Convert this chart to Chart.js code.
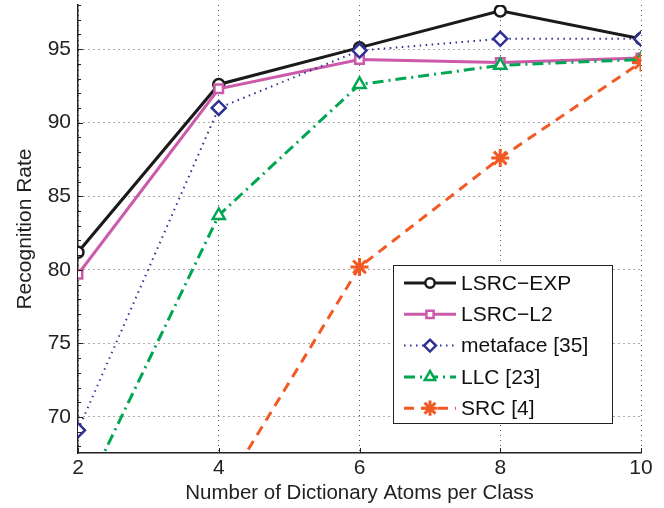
<!DOCTYPE html>
<html>
<head>
<meta charset="utf-8">
<script src="https://cdn.jsdelivr.net/npm/chart.js@4"></script>
<style>
  html, body { margin: 0; padding: 0; background: #fff; }
  #wrap { width: 664px; height: 508px; }
</style>
</head>
<body>
<div id="wrap"><canvas id="chart1" width="664" height="508"></canvas></div>
<script>
const atoms = [2, 4, 6, 8, 10];
const lsrcExp = [81.2, 92.6, 95.1, 97.6, 95.7];
const lsrcL2 = [79.7, 92.3, 94.3, 94.1, 94.4];
const metaface = [69.1, 91.0, 94.9, 95.7, 95.7];
const llc = [63.9, 83.7, 92.6, 93.9, 94.3];
const src = [55.0, 64.5, 80.2, 87.6, 94.1];
const yTicks = [70, 75, 80, 85, 90, 95];
const seriesNames = ['LSRC\u2212EXP', 'LSRC\u2212L2', 'metaface [35]', 'LLC [23]', 'SRC [4]'];

const FONT = 'Liberation Sans, Arial, Helvetica, sans-serif';

function toPoints(vals) {
  return vals.map((v, i) => ({ x: atoms[i], y: v }));
}

// matlab style ticks pointing into the plot, minor ones on y every unit
const innerTicks = {
  id: 'innerTicks',
  afterDraw(chart) {
    const { ctx, chartArea, scales } = chart;
    ctx.save();
    ctx.strokeStyle = '#222';
    ctx.lineWidth = 1;
    ctx.beginPath();
    atoms.forEach(v => {
      const px = Math.round(scales.x.getPixelForValue(v)) + 0.5;
      ctx.moveTo(px, chartArea.bottom);
      ctx.lineTo(px, chartArea.bottom - 5);
    });
    for (let v = 68; v <= 98; v++) {
      const py = Math.round(scales.y.getPixelForValue(v)) + 0.5;
      const len = v % 5 === 0 ? 5 : 3;
      ctx.moveTo(chartArea.left, py);
      ctx.lineTo(chartArea.left + len, py);
    }
    ctx.stroke();
    ctx.restore();
  }
};

// legend drawn inside the plot, lower right, like the matlab one
const boxLegend = {
  id: 'boxLegend',
  afterDatasetsDraw(chart) {
    const ctx = chart.ctx;
    const x0 = 393, y0 = 265, w = 219, h = 158;
    ctx.save();
    ctx.fillStyle = '#fff';
    ctx.fillRect(x0, y0, w, h);
    ctx.strokeStyle = '#222';
    ctx.lineWidth = 1;
    ctx.strokeRect(x0 + 0.5, y0 + 0.5, w, h);
    chart.data.datasets.forEach((ds, i) => {
      const y = 283 + i * 31.3;
      ctx.save();
      ctx.strokeStyle = ds.borderColor;
      ctx.lineWidth = ds.borderWidth;
      ctx.setLineDash(ds.borderDash || []);
      ctx.beginPath();
      ctx.moveTo(404, y);
      ctx.lineTo(456, y);
      ctx.stroke();
      ctx.restore();
      ctx.save();
      ctx.strokeStyle = ds.borderColor;
      ctx.fillStyle = ds.pointBackgroundColor;
      ctx.lineWidth = ds.pointBorderWidth;
      Chart.helpers.drawPoint(ctx, {
        pointStyle: ds.pointStyle,
        radius: ds.pointRadius * 0.85,
        rotation: 0,
        borderWidth: ds.pointBorderWidth
      }, 430, y);
      ctx.restore();
      ctx.fillStyle = '#111';
      ctx.font = '21px ' + FONT;
      ctx.textBaseline = 'middle';
      ctx.fillText(ds.label, 461, y + 1);
    });
    ctx.restore();
  }
};

new Chart(document.getElementById('chart1'), {
  type: 'line',
  data: {
    datasets: [
      {
        label: seriesNames[0], data: toPoints(lsrcExp), order: 5,
        borderColor: '#1a1a1a', borderWidth: 3,
        pointStyle: 'circle', pointRadius: 5.5, pointBorderWidth: 2.5,
        pointBackgroundColor: '#fff'
      },
      {
        label: seriesNames[1], data: toPoints(lsrcL2), order: 4,
        borderColor: '#cc5aaa', borderWidth: 3,
        pointStyle: 'rect', pointRadius: 6, pointBorderWidth: 2.5,
        pointBackgroundColor: '#fff'
      },
      {
        label: seriesNames[2], data: toPoints(metaface), order: 3,
        borderColor: '#2e3192', borderWidth: 2, borderDash: [1.5, 4.5],
        pointStyle: 'rectRot', pointRadius: 7, pointBorderWidth: 2.5,
        pointBackgroundColor: '#fff'
      },
      {
        label: seriesNames[3], data: toPoints(llc), order: 2,
        borderColor: '#00a651', borderWidth: 3, borderDash: [11, 5, 2, 5],
        pointStyle: 'triangle', pointRadius: 7, pointBorderWidth: 2.5,
        pointBackgroundColor: '#fff'
      },
      {
        label: seriesNames[4], data: toPoints(src), order: 1,
        borderColor: '#f15a24', borderWidth: 3, borderDash: [10, 7],
        pointStyle: 'star', pointRadius: 9, pointBorderWidth: 3,
        pointBackgroundColor: '#f15a24'
      }
    ]
  },
  options: {
    responsive: false,
    animation: false,
    layout: { autoPadding: false, padding: { left: 0, right: 23, top: 5, bottom: 0 } },
    elements: { line: { tension: 0 } },
    plugins: {
      legend: { display: false },
      tooltip: { enabled: false }
    },
    scales: {
      x: {
        type: 'linear', min: 2, max: 10,
        afterBuildTicks: (scale) => { scale.ticks = atoms.map(v => ({ value: v })); },
        afterFit: (scale) => { scale.height = 55; scale.paddingLeft = 0; scale.paddingRight = 0; },
        grid: { color: '#555', lineWidth: 1, drawTicks: false },
        border: { display: true, color: '#222', width: 1.5, dash: [1, 4] },
        ticks: { color: '#222', font: { family: FONT, size: 21 }, padding: 3 },
        title: {
          display: true, text: 'Number of Dictionary Atoms per Class',
          color: '#222', font: { family: FONT, size: 20.5 }, padding: { top: 0, bottom: 2 }
        }
      },
      y: {
        type: 'linear', min: 67.55, max: 98,
        afterBuildTicks: (scale) => { scale.ticks = yTicks.map(v => ({ value: v })); },
        afterFit: (scale) => { scale.width = 78; scale.paddingTop = 0; scale.paddingBottom = 0; },
        grid: { color: '#555', lineWidth: 1, drawTicks: false },
        border: { display: true, color: '#222', width: 1.5, dash: [1, 4] },
        ticks: { color: '#222', font: { family: FONT, size: 21 }, padding: 7 },
        title: {
          display: true, text: 'Recognition Rate',
          color: '#222', font: { family: FONT, size: 21 }, padding: { top: 13, bottom: 0 }
        }
      }
    }
  },
  plugins: [boxLegend, innerTicks]
});
</script>
</body>
</html>
